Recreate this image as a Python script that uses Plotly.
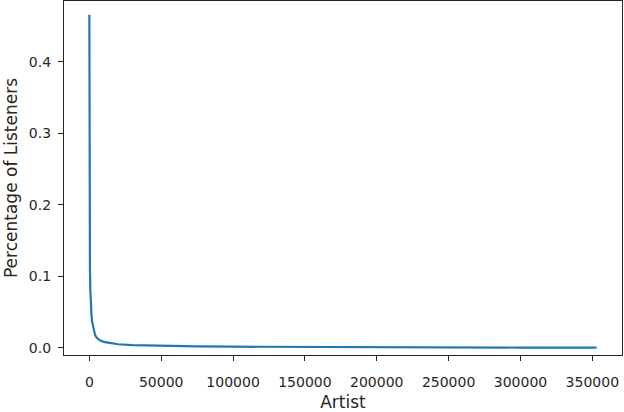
import plotly.graph_objects as go

# artist rank (sorted by popularity) vs share of listeners
artist_rank = [0, 50, 100, 200, 400, 700, 1000, 1500, 2000, 3000, 4000, 5000,
               7000, 10000, 15000, 20000, 30000, 50000, 75000, 100000, 150000,
               200000, 250000, 300000, 353000]
listener_share = [0.466, 0.30, 0.22, 0.16, 0.11, 0.08, 0.062, 0.045, 0.036, 0.024,
                  0.018, 0.0145, 0.011, 0.0085, 0.0065, 0.0052, 0.004, 0.0028,
                  0.0022, 0.0018, 0.0013, 0.001, 0.0008, 0.0006, 0.0004]

x_ticks = [0, 50000, 100000, 150000, 200000, 250000, 300000, 350000]
y_ticks = [0.0, 0.1, 0.2, 0.3, 0.4]

fig = go.Figure()
fig.add_trace(go.Scatter(x=artist_rank, y=listener_share, mode="lines",
                         line=dict(color="#1f77b4", width=2.2)))

axis_style = dict(showline=True, mirror=True, linecolor="#262626", linewidth=1.2,
                  ticks="outside", ticklen=5, tickcolor="#262626", tickwidth=1.2,
                  showgrid=False, zeroline=False,
                  tickfont=dict(family="DejaVu Sans", size=14, color="#262626"))

fig.update_layout(
    width=624, height=412,
    plot_bgcolor="white", paper_bgcolor="white",
    margin=dict(l=64, r=2, t=1, b=57),
    showlegend=False,
    font=dict(family="DejaVu Sans", size=14, color="#262626"),
)
fig.update_xaxes(axis_style, range=[-17650, 370650], tickvals=x_ticks, tickformat="d",
                 ticklabelstandoff=9,
                 title=dict(text="Artist", standoff=8), automargin=False)
fig.update_yaxes(axis_style, range=[-0.0098, 0.4853], tickvals=y_ticks, tickformat=".1f",
                 ticklabelstandoff=4,
                 title=dict(text="Percentage of Listeners", standoff=6), automargin=False)

# page has a default 8px body margin; remove it so the figure fills the window
fig.write_html("out.html", config={"displayModeBar": False},
               post_script="document.body.style.margin='0';")
